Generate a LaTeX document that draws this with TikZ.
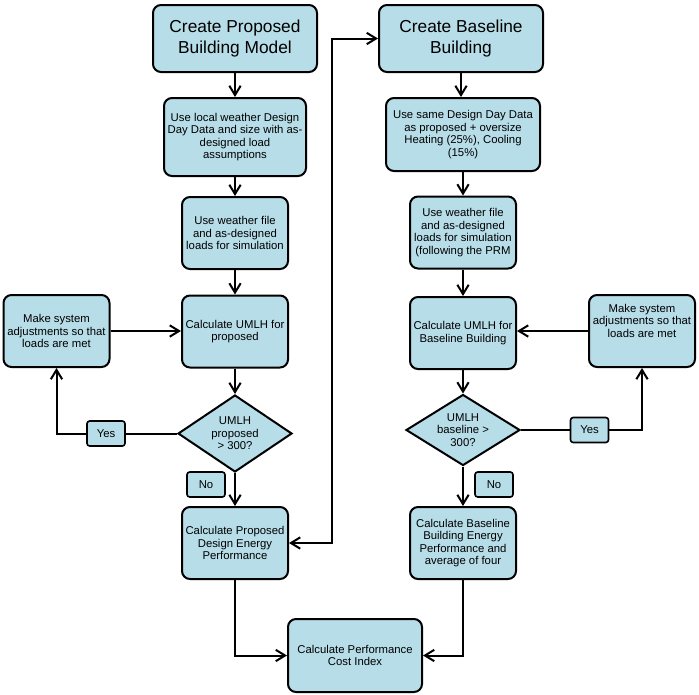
\documentclass[tikz,border=0pt]{standalone}
\usepackage{fontspec}
\setmainfont{Liberation Sans}
\usetikzlibrary{arrows.meta,shapes.geometric}
\definecolor{boxblue}{RGB}{183,221,232}
\tikzset{%
	startstop/.style = {draw, rectangle, rounded corners=6pt, fill=boxblue, line width=1.5pt, minimum width=123pt, minimum height=50.25pt, align=center, font=\fontsize{13}{15.5}\selectfont},
	process/.style   = {draw, rectangle, rounded corners=6pt, fill=boxblue, line width=1.5pt, minimum width=79.5pt, minimum height=54pt, inner sep=1pt, align=center, font=\fontsize{8.5}{9.3}\selectfont},
	decision/.style  = {draw, diamond, aspect=1.5, fill=boxblue, line width=1.5pt, minimum width=85.5pt, minimum height=57.75pt, inner sep=0pt, align=center, font=\fontsize{8.5}{9.3}\selectfont},
	answer/.style    = {draw, rectangle, rounded corners=2pt, fill=boxblue, line width=1.2pt, minimum width=28.5pt, minimum height=18.75pt, inner sep=0pt, font=\fontsize{8.5}{9.3}\selectfont},
	arrow/.style     = {line width=1.5pt, ->, >={Straight Barb[length=7pt,width=8.5pt]}},
}
\begin{document}
\begin{tikzpicture}[x=0.75pt,y=-0.75pt]
	\useasboundingbox (0,0) rectangle (699,694);
	% proposed building column
	\node[startstop] (ptitle) at (235,38.5) {Create Proposed\\Building Model};
	\node[process, minimum width=106.5pt, minimum height=58.5pt] (pdesign) at (235,137) {Use local weather Design\\Day Data and size with as-\\designed load\\assumptions};
	\node[process] (psim) at (235,233) {Use weather file\\and as-designed\\loads for simulation};
	\node[process] (pumlh) at (235,331.5) {Calculate UMLH for\\proposed};
	\node[process] (padjust) at (56.5,331) {Make system\\adjustments so that\\loads are met};
	\node[decision] (pcheck) at (235,433.5) {UMLH\\proposed\\> 300?};
	\node[process] (penergy) at (235,543) {Calculate Proposed\\Design Energy\\Performance};
	% baseline building column
	\node[startstop] (btitle) at (461,38.5) {Create Baseline\\Building};
	\node[process, minimum width=115.5pt, minimum height=54.75pt] (bdesign) at (463,134.5) {Use same Design Day Data\\as proposed + oversize\\Heating (25\%), Cooling\\(15\%)};
	\node[process] (bsim) at (463,232.5) {Use weather file\\and as-designed\\loads for simulation\\(following the PRM};
	\node[process] (bumlh) at (463,333) {Calculate UMLH for\\Baseline Building};
	\node[process] (badjust) at (642,331) {Make system\\adjustments so that\\loads are met\\[6pt]};
	\node[decision, minimum height=53.25pt] (bcheck) at (463,430) {UMLH\\baseline >\\300?};
	\node[process] (benergy) at (463,543) {Calculate Baseline\\Building Energy\\Performance and\\average of four};
	% result
	\node[process, minimum width=100.5pt, minimum height=54.75pt] (pci) at (355,655.5) {Calculate Performance\\Cost Index};
	\coordinate (jump) at (332,38.5);
	% connectors
	\draw[arrow] (ptitle) -- (pdesign);
	\draw[arrow] (pdesign) -- (psim);
	\draw[arrow] (psim) -- (pumlh);
	\draw[arrow] (pumlh) -- (pcheck);
	\draw[arrow] (pcheck) -- (penergy);
	\draw[arrow] (pcheck.west) -| (padjust.south);
	\draw[arrow] (padjust.east) -- (pumlh.west |- padjust.east);
	\draw[arrow] (btitle) -- (btitle |- bdesign.north);
	\draw[arrow] (bdesign) -- (bsim);
	\draw[arrow] (bsim) -- (bumlh);
	\draw[arrow] (bumlh) -- (bcheck);
	\draw[arrow] (bcheck) -- (benergy);
	\draw[arrow] (bcheck.east) -| (badjust.south);
	\draw[arrow] (badjust.west) -- (bumlh.east |- badjust.west);
	\draw[arrow,<->] (penergy.east) -| (jump) -- (btitle.west);
	\draw[arrow] (penergy.south) |- (pci.west);
	\draw[arrow] (benergy.south) |- (pci.east);
	% yes / no tags
	\node[answer] (pyes) at (106,433.5) {Yes};
	\node[answer] (pno) at (206,484.5) {No};
	\node[answer] (byes) at (589.5,430) {Yes};
	\node[answer] (bno) at (494,484.5) {No};
\end{tikzpicture}
\end{document}
